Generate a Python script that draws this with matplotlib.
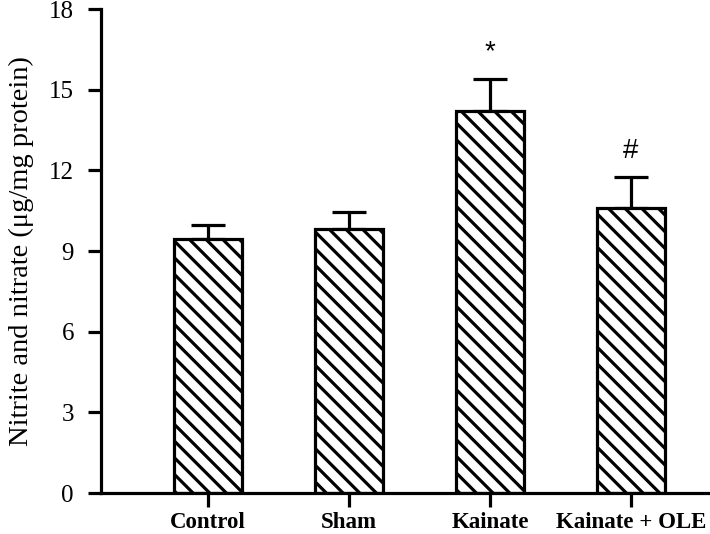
import matplotlib.pyplot as plt
import numpy as np

# data
groups = ['Control', 'Sham', 'Kainate', 'Kainate + OLE']
means = [9.45, 9.8, 14.2, 10.6]
errors = [0.5, 0.65, 1.2, 1.15]
marks = ['', '', '*', '#']
yticks = [0, 3, 6, 9, 12, 15, 18]

plt.rcParams['font.family'] = ['Liberation Serif', 'DejaVu Serif']
plt.rcParams['hatch.linewidth'] = 2.3

fig = plt.figure(figsize=(7.10, 5.34), dpi=100)
ax = fig.add_axes([101 / 710, 41 / 534, 609 / 710, 484 / 534])

x = np.arange(len(groups))
ax.bar(x, means, width=0.48, color='white', edgecolor='black',
       linewidth=2.3, hatch='\\\\', zorder=2)
ax.errorbar(x, means, yerr=[np.zeros(len(means)), errors], fmt='none',
            ecolor='black', elinewidth=2.3, capsize=12.5, capthick=2.3, zorder=1)

for xi, m, e, s in zip(x, means, errors, marks):
    if s:
        ax.text(xi, m + e + 0.5, s, ha='center', va='bottom', fontsize=20,
                family=['Liberation Sans', 'DejaVu Sans'])

ax.set_xlim(-0.76, 3.56)
ax.set_ylim(0, 18)
ax.set_yticks(yticks)
ax.set_xticks(x)
ax.set_xticklabels(groups, fontsize=16.5, fontweight='bold')
ax.tick_params(axis='y', labelsize=18, length=9.5, width=2.3, pad=10)
ax.tick_params(axis='x', length=10, width=2.3, pad=4)
ax.set_ylabel('Nitrite and nitrate (μg/mg protein)', fontsize=20.5, labelpad=11)

for side in ['top', 'right']:
    ax.spines[side].set_visible(False)
for side in ['left', 'bottom']:
    ax.spines[side].set_linewidth(2.3)

fig.savefig('out.png', dpi=100)
